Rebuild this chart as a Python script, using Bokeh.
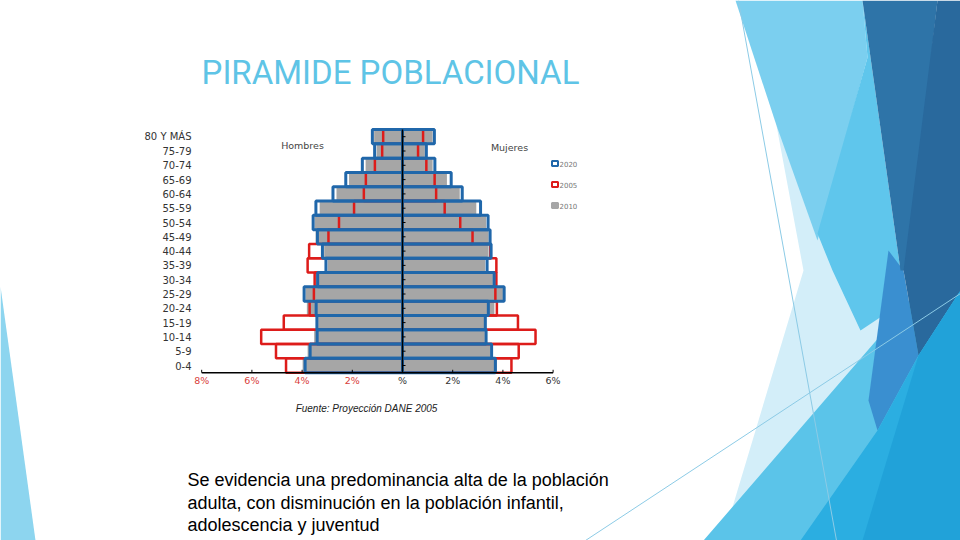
from bokeh.plotting import figure
from bokeh.models import Range1d
from bokeh.core.properties import value
from bokeh.embed import file_html
from bokeh.resources import INLINE

# ---------------- data ----------------
age_groups = ["0-4", "5-9", "10-14", "15-19", "20-24", "25-29", "30-34", "35-39",
              "40-44", "45-49", "50-54", "55-59", "60-64", "65-69", "70-74",
              "75-79", "80 Y MÁS"]

# percent of population, men (Hombres, drawn left) and women (Mujeres, drawn right)
hombres_2020 = [3.88, 3.68, 3.40, 3.41, 3.44, 3.92, 3.38, 3.05, 3.19, 3.39,
                3.56, 3.45, 2.77, 2.26, 1.60, 1.11, 1.20]
hombres_2010 = [3.98, 3.78, 3.52, 3.36, 3.81, 3.86, 3.45, 2.98, 3.12, 3.46,
                3.50, 3.30, 2.63, 2.13, 1.47, 1.03, 1.13]
hombres_2005 = [4.64, 5.04, 5.63, 4.73, 3.70, 3.53, 3.50, 3.78, 3.72, 2.95,
                2.53, 1.93, 1.54, 1.46, 1.10, 0.81, 0.77]

mujeres_2020 = [3.70, 3.55, 3.33, 3.30, 3.42, 4.05, 3.65, 3.37, 3.53, 3.49,
                3.41, 3.11, 2.38, 1.94, 1.29, 0.95, 1.27]
mujeres_2010 = [3.76, 3.50, 3.28, 3.25, 3.66, 4.00, 3.60, 3.29, 3.43, 3.43,
                3.33, 2.94, 2.28, 1.77, 1.20, 0.89, 1.20]
mujeres_2005 = [4.34, 4.63, 5.30, 4.60, 3.76, 3.70, 3.74, 3.74, 3.50, 2.79,
                2.30, 1.68, 1.34, 1.28, 0.95, 0.62, 0.82]

xtick_vals = [-8, -6, -4, -2, 0, 2, 4, 6]
xtick_labels = ["8%", "6%", "4%", "2%", "%", "2%", "4%", "6%"]
xtick_colors = ["#d9403a"] * 4 + ["#333333"] * 4

legend_years = ["2020", "2005", "2010"]

title_text = "PIRAMIDE POBLACIONAL"
source_text = "Fuente: Proyección DANE 2005"
body_lines = ["Se evidencia una predominancia alta de la población",
              "adulta, con disminución en la población infantil,",
              "adolescencia y juventud"]

# ---------------- geometry of the slide ----------------
W, H = 960, 540
PX_PER_PCT = 25.1
X_CENTER = 402.0
PX_PER_ROW = 14.3
Y_ROW0 = 365.0

BLUE = "#2067aa"
RED = "#dd1c1a"
GRAY = "#a6a6a6"

p = figure(width=W, height=H, output_backend="svg", toolbar_location=None,
           title=None, min_border=0, x_axis_type=None, y_axis_type=None,
           x_range=Range1d((0 - X_CENTER) / PX_PER_PCT, (W - X_CENTER) / PX_PER_PCT),
           y_range=Range1d((Y_ROW0 - H) / PX_PER_ROW, (Y_ROW0 - 0) / PX_PER_ROW),
           outline_line_color=None, background_fill_color="white",
           border_fill_color="white")
p.grid.visible = False
p.extra_x_ranges = {"px": Range1d(0, W)}
p.extra_y_ranges = {"py": Range1d(H, 0)}

# ---------------- decorative facets (slide theme) ----------------
facets = [
    ([0, 35, 0], [286, 540, 540], "#8dd5ef"),
    ([776, 803, 722, 800, 900, 850], [125, 270, 540, 540, 320, 200], "#d3eef9"),
    ([735, 862, 867, 817, 776], [0, 0, 57, 240, 125], "#7bcfef"),
    ([862, 900, 905, 860, 832, 817, 867], [0, 270, 300, 330, 270, 233, 57], "#5fc6ec"),
    ([703, 893, 960, 960], [540, 320, 242, 540], "#5bc4e9"),
    ([888, 903, 918, 877, 868], [250, 270, 355, 430, 400], "#3a8fd0"),
    ([862, 937, 907, 900], [0, 0, 270, 270], "#2e74a8"),
    ([937, 960, 960, 918, 903], [0, 0, 290, 355, 270], "#29699d"),
    ([800, 877, 918, 960, 960], [540, 430, 355, 290, 540], "#2baee1"),
    ([862, 918, 960, 960], [540, 355, 290, 540], "#21a2d9"),
]
p.patches(xs=[f[0] for f in facets], ys=[f[1] for f in facets],
          fill_color=[f[2] for f in facets], line_color=None,
          x_range_name="px", y_range_name="py")
p.line(x=[738, 836], y=[0, 540], line_color="#8ccbe6", line_width=1,
       x_range_name="px", y_range_name="py")
p.line(x=[585, 960], y=[540, 293], line_color="#8ccbe6", line_width=1,
       x_range_name="px", y_range_name="py")

# ---------------- pyramid ----------------
idx = list(range(len(age_groups)))
neg = lambda arr: [-v for v in arr]

# 2010: grey filled bars
p.hbar(y=idx, left=neg(hombres_2010), right=0, height=1, fill_color=GRAY,
       line_color=None)
p.hbar(y=idx, left=0, right=mujeres_2010, height=1, fill_color=GRAY,
       line_color=None)
# 2005: red outlines
p.hbar(y=idx, left=neg(hombres_2005), right=0, height=1, fill_alpha=0,
       line_color=RED, line_width=2.5)
p.hbar(y=idx, left=0, right=mujeres_2005, height=1, fill_alpha=0,
       line_color=RED, line_width=2.5)
# 2020: blue outlines
p.hbar(y=idx, left=neg(hombres_2020), right=0, height=1, fill_alpha=0,
       line_color=BLUE, line_width=3)
p.hbar(y=idx, left=0, right=mujeres_2020, height=1, fill_alpha=0,
       line_color=BLUE, line_width=3)

# centre line with small ticks at each row
n = len(age_groups)
p.segment(x0=[0], y0=[-0.5], x1=[0], y1=[n - 0.5], line_color="black", line_width=1.5)
p.segment(x0=[0] * n, y0=idx, x1=[0.12] * n, y1=idx, line_color="black", line_width=1)

# x axis line, ticks and labels
p.segment(x0=[xtick_vals[0]], y0=[-0.5], x1=[xtick_vals[-1]], y1=[-0.5],
          line_color="black", line_width=1.5)
p.segment(x0=xtick_vals, y0=[-0.5] * len(xtick_vals), x1=xtick_vals,
          y1=[-0.3] * len(xtick_vals), line_color="black", line_width=1)
p.text(x=xtick_vals, y=[-1.05] * len(xtick_vals), text=xtick_labels,
       text_color=xtick_colors, text_align="center", text_baseline="middle",
       text_font=value("DejaVu Sans"), text_font_size="9.5px")

# age group labels
p.text(x=[(191 - X_CENTER) / PX_PER_PCT] * n, y=idx, text=age_groups,
       text_align="right", text_baseline="middle", text_color="#333333",
       text_font=value("DejaVu Sans"), text_font_size="10px")

# ---------------- texts and legend (slide coordinates) ----------------
p.text(x=[302], y=[145], text=["Hombres"], text_align="center",
       text_baseline="middle", text_color="#444444",
       text_font=value("DejaVu Sans"), text_font_size="9.5px",
       x_range_name="px", y_range_name="py")
p.text(x=[509], y=[147], text=["Mujeres"], text_align="center",
       text_baseline="middle", text_color="#444444",
       text_font=value("DejaVu Sans"), text_font_size="9.5px",
       x_range_name="px", y_range_name="py")

leg_y = [163, 184, 205]
p.rect(x=[554.5] * 3, y=leg_y, width=6, height=5,
       fill_color=["white", "white", GRAY], line_color=[BLUE, RED, GRAY],
       line_width=2, x_range_name="px", y_range_name="py")
p.text(x=[559] * 3, y=leg_y, text=legend_years, text_align="left",
       text_baseline="middle", text_color="#777777",
       text_font=value("DejaVu Sans"), text_font_size="7px",
       x_range_name="px", y_range_name="py")

p.text(x=[366], y=[408], text=[source_text], text_align="center",
       text_baseline="middle", text_color="#222222", text_font_style="italic",
       text_font=value("Liberation Sans"), text_font_size="10px",
       x_range_name="px", y_range_name="py")

p.text(x=[390], y=[72], text=[title_text], text_align="center",
       text_baseline="middle", text_color="#5ec4e6",
       text_font=value("Roboto"), text_font_size="33px",
       x_range_name="px", y_range_name="py")

p.text(x=[187] * 3, y=[479, 502, 524], text=body_lines, text_align="left",
       text_baseline="alphabetic", text_color="black",
       text_font=value("Liberation Sans"), text_font_size="18px",
       x_range_name="px", y_range_name="py")

open("out.html", "w").write(file_html(p, INLINE))
